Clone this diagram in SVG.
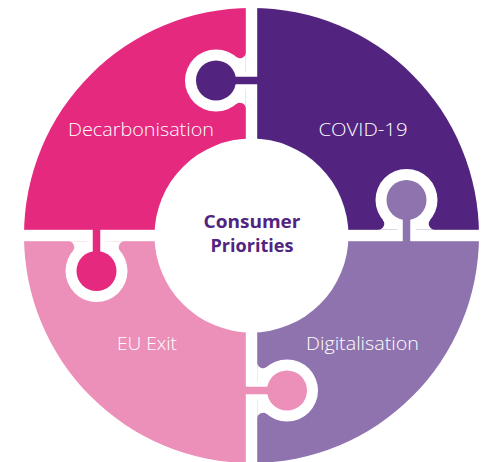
<svg xmlns="http://www.w3.org/2000/svg" width="484" height="462" viewBox="0 0 484 462">
  <defs>
    <style>
      .lbl { font-family: "Open Sans", "Liberation Sans", sans-serif; font-weight: 300; font-size: 18px; fill: #ffffff; text-anchor: middle; }
      .ctr { font-family: "Open Sans", "Liberation Sans", sans-serif; font-weight: 700; font-size: 18px; fill: #52247f; text-anchor: middle; }
      .gap { fill: #ffffff; }
    </style>
    <clipPath id="disc">
      <circle cx="251.5" cy="235.5" r="227.5"/>
    </clipPath>
    <g id="ring">
      <circle cx="0" cy="-35.5" r="31" fill="#ffffff"/>
      <path d="M -28.3 -5.7 A 6 6 0 0 0 -23.7 -15.56 L 23.7 -15.56 A 6 6 0 0 0 28.3 -5.7 Z" fill="#ffffff"/>
    </g>
  </defs>

  <g id="quadrants" clip-path="url(#disc)">
    <g id="decarbonisation"><rect x="0" y="0" width="251.5" height="235.5" fill="#e4297f"/></g>
    <g id="covid-19"><rect x="251.5" y="0" width="232.5" height="235.5" fill="#52247f"/></g>
    <g id="digitalisation"><rect x="251.5" y="235.5" width="232.5" height="226.5" fill="#8f73ae"/></g>
    <g id="eu-exit"><rect x="0" y="235.5" width="251.5" height="226.5" fill="#ec90b9"/></g>
  </g>

  <g id="connectors">
    <rect class="gap" x="245.8" y="0" width="11.4" height="462"/>
    <rect class="gap" x="0" y="229.8" width="484" height="11.4"/>

    <g id="knob-covid" transform="translate(251.5 80.5) rotate(-90)">
      <use href="#ring"/>
      <circle cx="0" cy="-35.5" r="20" fill="#52247f"/>
      <rect x="-3.75" y="-35.5" width="7.5" height="44" fill="#52247f"/>
    </g>
    <g id="knob-digital" transform="translate(406.5 235.5)">
      <use href="#ring"/>
      <circle cx="0" cy="-35.5" r="20" fill="#8f73ae"/>
      <rect x="-3.75" y="-35.5" width="7.5" height="44" fill="#8f73ae"/>
    </g>
    <g id="knob-decarb" transform="translate(96.5 235.5) rotate(180)">
      <use href="#ring"/>
      <circle cx="0" cy="-35.5" r="20" fill="#e4297f"/>
      <rect x="-3.75" y="-35.5" width="7.5" height="44" fill="#e4297f"/>
    </g>
    <g id="knob-euexit" transform="translate(251.5 390.5) rotate(90)">
      <use href="#ring"/>
      <circle cx="0" cy="-35.5" r="20" fill="#ec90b9"/>
      <rect x="-3.75" y="-35.5" width="7.5" height="44" fill="#ec90b9"/>
    </g>
  </g>

  <g id="center">
    <circle cx="251.5" cy="235.5" r="97" fill="#ffffff"/>
    <text class="ctr" x="252" y="228" textLength="97" lengthAdjust="spacingAndGlyphs">Consumer</text>
    <text class="ctr" x="252" y="252" textLength="83" lengthAdjust="spacingAndGlyphs">Priorities</text>
  </g>

  <g id="labels">
    <text class="lbl" x="141" y="136" textLength="146" lengthAdjust="spacingAndGlyphs">Decarbonisation</text>
    <text class="lbl" x="363" y="136" textLength="89" lengthAdjust="spacingAndGlyphs">COVID-19</text>
    <text class="lbl" x="147" y="350" textLength="60" lengthAdjust="spacingAndGlyphs">EU Exit</text>
    <text class="lbl" x="362.5" y="350" textLength="113" lengthAdjust="spacingAndGlyphs">Digitalisation</text>
  </g>
</svg>
